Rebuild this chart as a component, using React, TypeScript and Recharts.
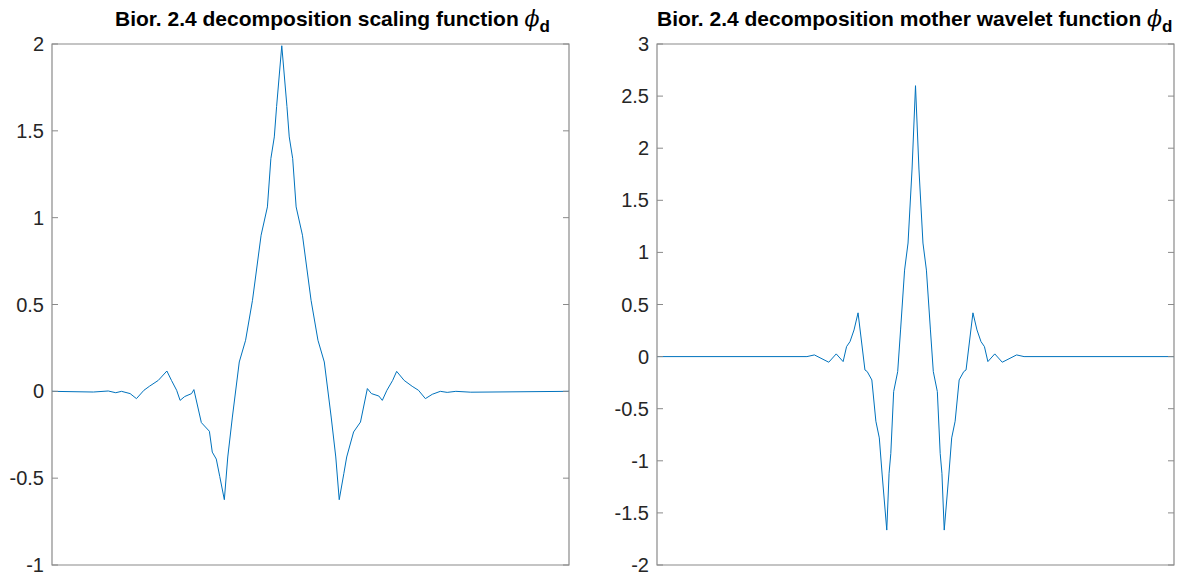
import { LineChart, Line, XAxis, YAxis, ReferenceArea } from 'recharts'

// bior2.4 decomposition scaling function, sampled on [0, 9]
const scalingX = [
  0, 0.72, 0.98, 1.11, 1.21, 1.36, 1.47, 1.6, 1.7, 1.85, 2.0, 2.08, 2.17, 2.23, 2.31, 2.43, 2.47,
  2.6, 2.74, 2.79, 2.86, 2.92, 3.0, 3.06, 3.14, 3.26, 3.37, 3.49, 3.64, 3.75, 3.81, 3.87, 3.91,
  4.0, 4.09, 4.13, 4.19, 4.25, 4.36, 4.51, 4.63, 4.74, 4.86, 4.94, 5.0, 5.08, 5.13, 5.25, 5.37,
  5.49, 5.56, 5.69, 5.75, 5.83, 5.93, 6.0, 6.13, 6.27, 6.38, 6.5, 6.62, 6.76, 6.88, 7.03, 7.29, 9,
]
const scalingY = [
  0, -0.004, 0.002, -0.008, 0, -0.013, -0.042, 0.006, 0.03, 0.063, 0.117, 0.063, 0.006, -0.052, -0.03, -0.013, 0.01,
  -0.18, -0.23, -0.35, -0.39, -0.49, -0.624, -0.378, -0.148, 0.169, 0.294, 0.524, 0.899, 1.062, 1.34, 1.465, 1.64,
  1.99, 1.64, 1.465, 1.34, 1.062, 0.899, 0.524, 0.294, 0.169, -0.148, -0.378, -0.624, -0.474, -0.378, -0.234, -0.177,
  0.016, -0.013, -0.027, -0.052, 0.006, 0.063, 0.115, 0.063, 0.029, 0.006, -0.042, -0.017, 0, -0.006, 0, -0.005, 0,
]

// bior2.4 decomposition wavelet function, sampled on [0, 9]
const waveletX = [
  0, 2.61, 2.74, 2.99, 3.12, 3.24, 3.3, 3.36, 3.43, 3.5, 3.62, 3.66, 3.74, 3.81, 3.87, 3.92,
  4.0, 4.04, 4.07, 4.12, 4.19, 4.24, 4.31, 4.37, 4.44, 4.5, 4.56, 4.63, 4.69, 4.76, 4.81, 4.88,
  4.93, 4.96, 5.0, 5.08, 5.13, 5.19, 5.26, 5.34, 5.38, 5.5, 5.57, 5.64, 5.7, 5.76, 5.88, 6.01,
  6.26, 6.39, 9,
]
const waveletY = [
  0, 0, 0.016, -0.054, 0.026, -0.048, 0.096, 0.144, 0.256, 0.42, -0.128, -0.144, -0.224, -0.62, -0.78, -1.136,
  -1.665, -1.12, -0.93, -0.336, -0.144, 0.256, 0.83, 1.09, 1.8, 2.6, 1.8, 1.09, 0.83, 0.256, -0.144, -0.336,
  -0.93, -1.12, -1.665, -1.136, -0.78, -0.62, -0.224, -0.144, -0.128, 0.42, 0.256, 0.144, 0.096, -0.048, 0.026, -0.054,
  0.016, 0, 0,
]

const scalingTicks = [-1, -0.5, 0, 0.5, 1, 1.5, 2]
const waveletTicks = [-2, -1.5, -1, -0.5, 0, 0.5, 1, 1.5, 2, 2.5, 3]
const xRange = [0, 9]

const AXIS = '#8a8a8a'
const INK = '#262626'
const FONT = '"Liberation Sans", Arial, Helvetica, sans-serif'

// label outside the box, short ticks pointing inward from both box edges
const BoxTick = ({ x, y, payload, span }: any) => {
  const edge = x + 8
  return (
    <g>
      <line x1={edge} x2={edge + 6} y1={y} y2={y} stroke={AXIS} />
      <line x1={edge + span - 6} x2={edge + span} y1={y} y2={y} stroke={AXIS} />
      <text x={x} y={y} dy={7} textAnchor='end' fontSize={20} fill={INK} fontFamily={FONT}>
        {payload.value}
      </text>
    </g>
  )
}

function Panel({ xs, ys, ticks, left, width, axisWidth, right, title }: any) {
  const data = xs.map((x: number, i: number) => ({ x, y: ys[i] }))
  const lo = ticks[0]
  const hi = ticks[ticks.length - 1]
  const span = width - axisWidth - right
  return (
    <div style={{ position: 'absolute', left, top: 0, width, height: 576 }}>
      <div style={{
        position: 'absolute', left: title.left - left, top: 9, whiteSpace: 'nowrap',
        fontFamily: FONT, fontWeight: 700, fontSize: 21, lineHeight: '20px', color: '#000',
      }}>
        {title.text}{' '}
        <span style={{ fontFamily: '"DejaVu Serif", serif', fontStyle: 'italic', fontWeight: 400, fontSize: 22 }}>ϕ</span>
        <span style={{ fontSize: 17, position: 'relative', top: 6 }}>d</span>
      </div>
      <LineChart width={width} height={576} data={data} margin={{ top: 44, right, bottom: 11, left: 0 }}>
        <XAxis dataKey='x' type='number' domain={xRange} hide />
        <YAxis
          type='number'
          domain={[lo, hi]}
          ticks={ticks}
          width={axisWidth}
          axisLine={false}
          tickLine={false}
          tickSize={0}
          tickMargin={8}
          tick={<BoxTick span={span} />}
          interval={0}
        />
        <ReferenceArea
          x1={xRange[0]} x2={xRange[1]} y1={lo} y2={hi}
          fill='none' fillOpacity={0} stroke={AXIS} strokeWidth={1.2} ifOverflow='visible'
        />
        <Line
          dataKey='y'
          type='linear'
          stroke='#0072BD'
          strokeWidth={1}
          dot={false}
          activeDot={false}
          isAnimationActive={false}
        />
      </LineChart>
    </div>
  )
}

export default function App() {
  return (
    <div style={{ position: 'absolute', left: 0, top: 0, width: 1182, height: 576, background: '#fff', overflow: 'hidden' }}>
      <Panel
        xs={scalingX} ys={scalingY} ticks={scalingTicks}
        left={0} width={600} axisWidth={52} right={31}
        title={{ left: 115, text: 'Bior. 2.4 decomposition scaling function' }}
      />
      <Panel
        xs={waveletX} ys={waveletY} ticks={waveletTicks}
        left={600} width={582} axisWidth={57} right={8}
        title={{ left: 657, text: 'Bior. 2.4 decomposition mother wavelet function' }}
      />
    </div>
  )
}
